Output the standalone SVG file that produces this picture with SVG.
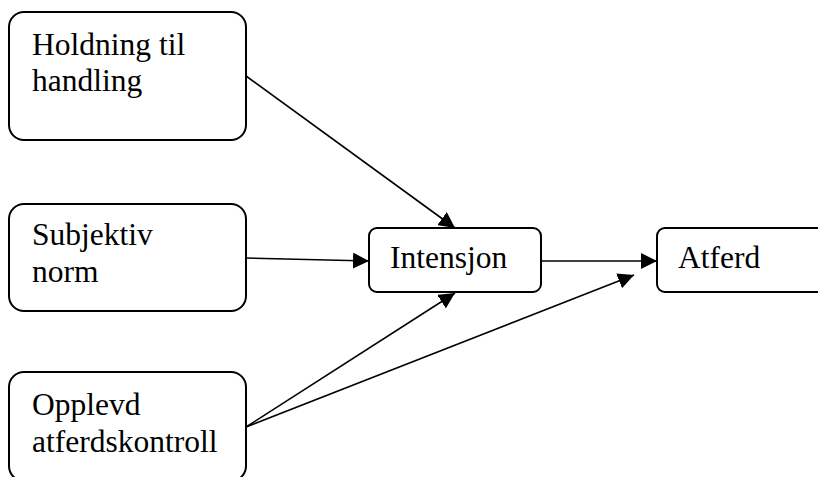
<svg xmlns="http://www.w3.org/2000/svg" width="818" height="477" viewBox="0 0 818 477">
<style>
.box{fill:#fff;stroke:#000;stroke-width:2}
.lbl{font-family:"Liberation Serif","Times New Roman",serif;font-size:31.5px;fill:#000}
.edge{stroke:#000;stroke-width:1.6;fill:none;marker-end:url(#ah)}
</style>
<defs>
<marker id="ah" markerUnits="userSpaceOnUse" markerWidth="16" markerHeight="16" viewBox="0 0 16 16" refX="16" refY="8" orient="auto">
<path d="M0,0 L16,8 L0,16 Z" fill="#000"/>
</marker>
</defs>
<rect width="818" height="477" fill="#fff"/>
<g id="connectors">
<line class="edge" x1="246" y1="76" x2="455" y2="228"/>
<line class="edge" x1="246" y1="258" x2="369" y2="261"/>
<line class="edge" x1="246" y1="427" x2="455" y2="293"/>
<line class="edge" x1="246" y1="427" x2="634" y2="275"/>
<line class="edge" x1="541" y1="261" x2="657" y2="261"/>
</g>
<g id="holdning">
<rect class="box" x="9" y="12" width="237" height="128" rx="15"/>
<text class="lbl" x="32" y="55">Holdning til</text>
<text class="lbl" x="32" y="91">handling</text>
</g>
<g id="subjektiv">
<rect class="box" x="9" y="204" width="237" height="107" rx="15"/>
<text class="lbl" x="32" y="245">Subjektiv</text>
<text class="lbl" x="32" y="282">norm</text>
</g>
<g id="opplevd">
<rect class="box" x="9" y="372" width="237" height="109" rx="15"/>
<text class="lbl" x="32" y="415">Opplevd</text>
<text class="lbl" x="32" y="452">atferdskontroll</text>
</g>
<g id="intensjon">
<rect class="box" x="369" y="228" width="172" height="64" rx="8"/>
<text class="lbl" x="390" y="268">Intensjon</text>
</g>
<g id="atferd">
<rect class="box" x="657" y="228" width="175" height="64" rx="8"/>
<text class="lbl" x="678" y="268">Atferd</text>
</g>
</svg>
